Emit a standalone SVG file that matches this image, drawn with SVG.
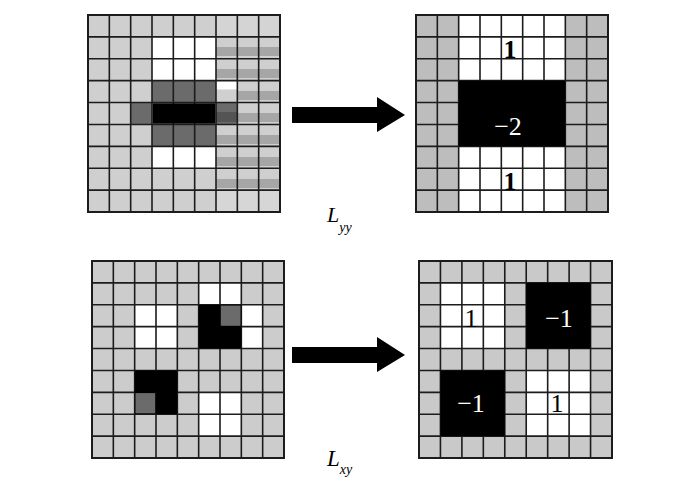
<svg xmlns="http://www.w3.org/2000/svg" width="700" height="481" viewBox="0 0 700 481">
<style>
.grid{fill:none;stroke:#1c1c1c;stroke-width:1.6}
.frame{fill:none;stroke:#1c1c1c;stroke-width:2}
.wh{fill:#ffffff}
.bk{fill:#000000}
.dg{fill:#6b6b6b}
.st{fill:#a6a6a6}
.num{font-family:"Liberation Serif","Times New Roman",serif;font-size:26px;text-anchor:middle}
.lbl{font-family:"Liberation Serif","Times New Roman",serif;font-style:italic}
</style>
<defs>
<polygon id="arrowShape" points="0,0 85,0 85,-10 113,8 85,25 85,16 0,16"/>
</defs>
<rect width="700" height="481" fill="#ffffff"/>

<g id="grid-yy-input">
<rect x="88" y="15" width="192" height="197" fill="#cfcfcf"/>
<rect x="216" y="15" width="64" height="21.89" fill="#d4d4d4"/>
<rect x="216" y="190.11" width="64" height="21.89" fill="#d6d6d6"/>
<rect class="wh" x="152" y="36.89" width="64" height="43.78"/>
<rect class="wh" x="152" y="146.33" width="64" height="21.89"/>
<rect class="dg" x="152" y="80.67" width="64" height="21.89"/>
<rect class="dg" x="152" y="124.44" width="64" height="21.89"/>
<rect class="dg" x="130.67" y="102.56" width="21.33" height="21.89"/>
<g class="st">
<rect x="216" y="47" width="64" height="9"/>
<rect x="216" y="69" width="64" height="9"/>
<rect x="216" y="91" width="64" height="9"/>
<rect x="216" y="113" width="64" height="9"/>
<rect x="216" y="135" width="64" height="9"/>
<rect x="216" y="157" width="64" height="9"/>
<rect x="216" y="179" width="64" height="9"/>
</g>
<rect class="wh" x="216" y="80.67" width="21.33" height="9"/>
<rect x="216" y="89.67" width="21.33" height="12.89" fill="#d0d0d0"/>
<rect class="dg" x="216" y="102.56" width="21.33" height="21.89"/>
<rect x="216" y="112" width="21.33" height="10" fill="#545454"/>
<path class="grid" d="M109.33 15V212M130.67 15V212M152 15V212M173.33 15V212M194.67 15V212M216 15V212M237.33 15V212M258.67 15V212M88 36.89H280M88 58.78H280M88 80.67H280M88 102.56H280M88 124.44H280M88 146.33H280M88 168.22H280M88 190.11H280"/>
<rect class="bk" x="152.8" y="103.3" width="62.4" height="20.4"/>
<rect class="frame" x="88" y="15" width="192" height="197"/>
</g>

<g id="grid-yy-output">
<rect x="416" y="15" width="192" height="197" fill="#bdbdbd"/>
<rect class="wh" x="458.67" y="15" width="106.67" height="197"/>
<path class="grid" d="M437.33 15V212M458.67 15V212M480 15V212M501.33 15V212M522.67 15V212M544 15V212M565.33 15V212M586.67 15V212M416 36.89H608M416 58.78H608M416 80.67H608M416 102.56H608M416 124.44H608M416 146.33H608M416 168.22H608M416 190.11H608"/>
<rect class="bk" x="458.67" y="80.67" width="106.67" height="65.66"/>
<rect class="frame" x="416" y="15" width="192" height="197"/>
<text class="num" x="510" y="58" font-weight="bold">1</text>
<text class="num" x="508" y="135" fill="#ffffff">−2</text>
<text class="num" x="510" y="190" font-weight="bold">1</text>
</g>

<g id="grid-xy-input">
<rect x="92" y="261" width="192" height="197" fill="#cccccc"/>
<rect class="wh" x="198.67" y="282.89" width="42.67" height="21.89"/>
<rect class="wh" x="134.67" y="304.78" width="42.67" height="43.78"/>
<rect class="wh" x="241.33" y="304.78" width="21.33" height="43.78"/>
<rect class="wh" x="198.67" y="392.33" width="42.67" height="43.78"/>
<path class="grid" d="M113.33 261V458M134.67 261V458M156 261V458M177.33 261V458M198.67 261V458M220 261V458M241.33 261V458M262.67 261V458M92 282.89H284M92 304.78H284M92 326.67H284M92 348.56H284M92 370.44H284M92 392.33H284M92 414.22H284M92 436.11H284"/>
<rect class="bk" x="198.67" y="304.78" width="42.67" height="43.78"/>
<rect class="dg" x="220.8" y="305.6" width="19.7" height="20.2"/>
<rect class="bk" x="134.67" y="370.44" width="42.67" height="43.78"/>
<rect class="dg" x="135.5" y="393.1" width="19.7" height="20.2"/>
<rect class="frame" x="92" y="261" width="192" height="197"/>
</g>

<g id="grid-xy-output">
<rect x="419" y="261" width="193" height="197" fill="#c9c9c9"/>
<rect class="wh" x="440.44" y="282.89" width="64.33" height="65.67"/>
<rect class="wh" x="526.22" y="370.44" width="64.33" height="65.67"/>
<path class="grid" d="M440.44 261V458M461.89 261V458M483.33 261V458M504.78 261V458M526.22 261V458M547.67 261V458M569.11 261V458M590.56 261V458M419 282.89H612M419 304.78H612M419 326.67H612M419 348.56H612M419 370.44H612M419 392.33H612M419 414.22H612M419 436.11H612"/>
<rect class="bk" x="526.22" y="282.89" width="64.33" height="65.67"/>
<rect class="bk" x="440.44" y="370.44" width="64.33" height="65.67"/>
<rect class="frame" x="419" y="261" width="193" height="197"/>
<text class="num" x="471" y="327">1</text>
<text class="num" x="559" y="327" fill="#ffffff">−1</text>
<text class="num" x="471" y="412" fill="#ffffff">−1</text>
<text class="num" x="557" y="412">1</text>
</g>

<g id="connectors" fill="#000000">
<use href="#arrowShape" x="292" y="107"/>
<use href="#arrowShape" x="292" y="347"/>
</g>

<g id="labels">
<text class="lbl" x="327" y="222" font-size="22">L<tspan font-size="14" dy="10">yy</tspan></text>
<text class="lbl" x="327" y="466" font-size="23">L<tspan font-size="14" dy="8">xy</tspan></text>
</g>
</svg>
